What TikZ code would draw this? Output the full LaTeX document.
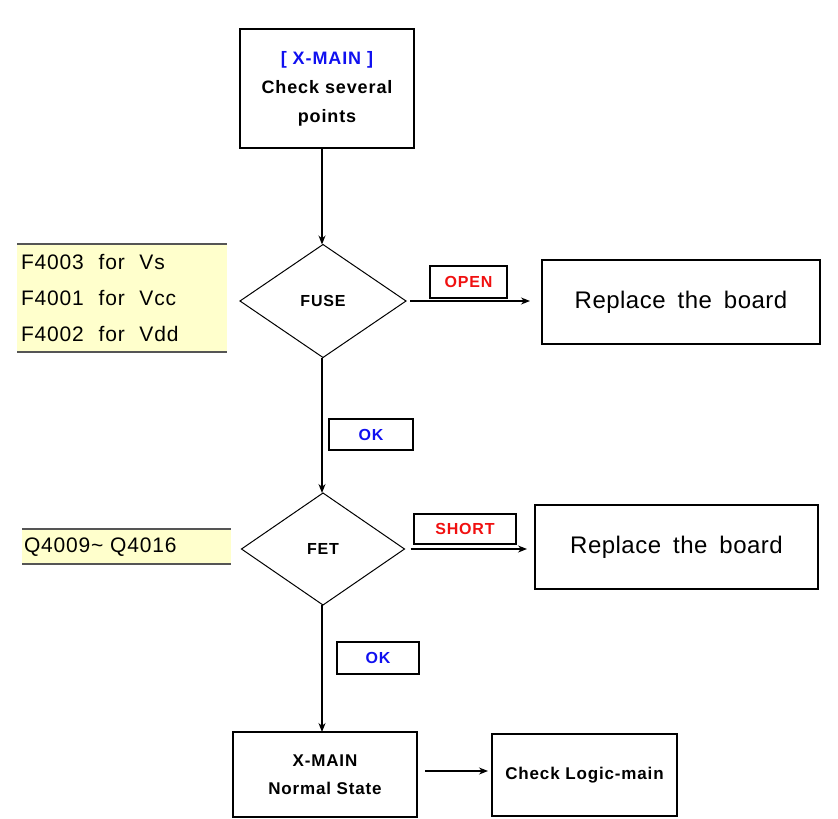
\documentclass[tikz,border=0pt]{standalone}
\usepackage{fontspec}
\setmainfont{Liberation Sans}
\usetikzlibrary{shapes.geometric,arrows.meta}
\definecolor{notefill}{HTML}{FFFFCC}
\definecolor{noteline}{HTML}{555555}
\definecolor{okblue}{HTML}{1010F0}
\definecolor{badred}{HTML}{F01010}
% bold, slightly spaced type: size and line distance
\newcommand{\boldwide}[2]{\fontsize{#1}{#2}\selectfont\bfseries\addfontfeature{LetterSpace=5}}
\begin{document}
\begin{tikzpicture}[x=1pt,y=-1pt,
  every node/.style={inner sep=0pt,outer sep=0pt},
  stepbox/.style={draw,line width=1.4pt,minimum width=#1,align=center},
  decision/.style={draw,line width=1pt,diamond,aspect=1.45,minimum width=166pt,minimum height=113pt,font=\boldwide{16}{19}},
  tag/.style={draw,line width=1.4pt,font=\boldwide{16}{19}},
  flow/.style={line width=1.2pt,-{Stealth[length=9pt,width=7pt]}},
  bigtext/.style={font=\fontsize{24}{28}\selectfont\addfontfeature{LetterSpace=2}},
  notetext/.style={font=\fontsize{21}{36}\selectfont\addfontfeature{LetterSpace=4},align=left}
]
\useasboundingbox (0,0) rectangle (838,819);
\coordinate (spine) at (322,0);

% start box
\node[stepbox=174pt,minimum height=119pt,font=\boldwide{18}{29}] (start) at (327,88.5)
  {\textcolor{okblue}{[ X-MAIN ]}\\Check several\\points};

% FUSE decision and its note
\node[decision] (fuse) at (323,301) {FUSE};
\fill[notefill] (17,244) rectangle (227,352);
\draw[noteline,line width=1.6pt] (17,244) -- (227,244) (17,352) -- (227,352);
\node[notetext,anchor=west] (fusenote) at (21,298)
  {F4003\hspace{0.7em}for\hspace{0.7em}Vs\\F4001\hspace{0.7em}for\hspace{0.7em}Vcc\\F4002\hspace{0.7em}for\hspace{0.7em}Vdd};

% first replacement box
\node[stepbox=278pt,minimum height=84pt,bigtext] (rep1) at (681,302)
  {Replace\hspace{0.5em}the\hspace{0.5em}board};
\node[tag,minimum width=77pt,minimum height=32pt,text=badred] (open) at (468.5,282) {OPEN};

% FET decision and its note
\node[decision,minimum width=163pt,minimum height=112pt] (fet) at (323,549) {FET};
\fill[notefill] (22,529) rectangle (231,564);
\draw[noteline,line width=1.6pt] (22,529) -- (231,529) (22,564) -- (231,564);
\node[notetext,anchor=west] (fetnote) at (24,547) {Q4009\textasciitilde\ Q4016};

% second replacement box
\node[stepbox=283pt,minimum height=84pt,bigtext] (rep2) at (676.5,547)
  {Replace\hspace{0.5em}the\hspace{0.5em}board};
\node[tag,minimum width=102pt,minimum height=30pt,text=badred] (short) at (465,529) {SHORT};

% OK tags on the vertical flow
\node[tag,minimum width=84pt,minimum height=31pt,text=okblue] (ok1) at (371,434.5) {OK};
\node[tag,minimum width=82pt,minimum height=32pt,text=okblue] (ok2) at (378,658) {OK};

% final boxes
\node[stepbox=184pt,minimum height=85pt,font=\boldwide{17}{28}] (normal) at (325,774.5)
  {X-MAIN\\Normal State};
\node[stepbox=185pt,minimum height=82pt,font=\boldwide{17}{20}] (logic) at (584.5,775)
  {Check Logic-main};

% connectors
\draw[flow] (start.south -| spine) -- (fuse.north -| spine);
\draw[flow] (fuse.south -| spine) -- (fet.north -| spine);
\draw[flow] (fet.south -| spine) -- (normal.north -| spine);
\draw[flow,shorten <=4pt,shorten >=12pt] (fuse.east) -- (rep1.west |- fuse.east);
\draw[flow,shorten <=6pt,shorten >=8pt] (fet.east) -- (rep2.west |- fet.east);
\draw[flow,shorten <=8pt,shorten >=4pt] (normal.east |- 0,771) -- (logic.west |- 0,771);
\end{tikzpicture}
\end{document}
